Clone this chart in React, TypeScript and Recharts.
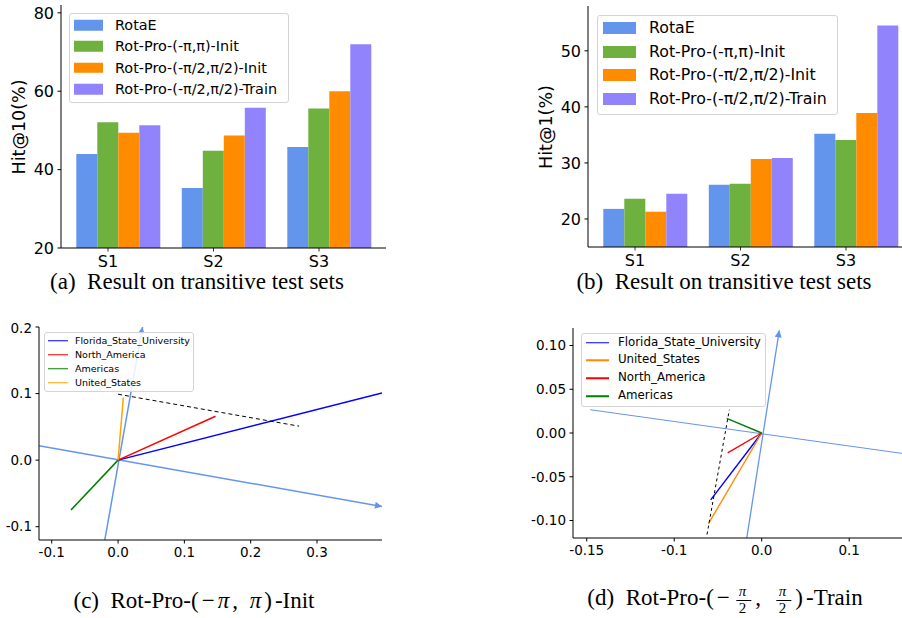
import { BarChart, Bar, XAxis, YAxis, ComposedChart, Line, Legend } from 'recharts'

const FONT = '"DejaVu Sans", sans-serif'
const SERIF = '"Liberation Serif", "Times New Roman", serif'

// bar panels (a) and (b)
const sets = ['S1', 'S2', 'S3']
const seriesNames = ['RotaE', 'Rot-Pro-(-π,π)-Init', 'Rot-Pro-(-π/2,π/2)-Init', 'Rot-Pro-(-π/2,π/2)-Train']
const barColors = ['#6495ED', '#6FB13F', '#FF8C00', '#9183FC']
const seriesKeys = ['rotae', 'piInit', 'halfPiInit', 'halfPiTrain']

const hit10RotaE = [44.0, 35.3, 45.8]
const hit10PiInit = [52.1, 44.8, 55.6]
const hit10HalfPiInit = [49.4, 48.7, 60.0]
const hit10HalfPiTrain = [51.3, 55.8, 72.0]
const hit10Ticks = [20, 40, 60, 80]

const hit1RotaE = [21.8, 26.1, 35.2]
const hit1PiInit = [23.6, 26.3, 34.1]
const hit1HalfPiInit = [21.3, 30.7, 38.9]
const hit1HalfPiTrain = [24.5, 30.9, 54.5]
const hit1Ticks = [20, 30, 40, 50]

// vector panel (c)
const cFlorida = [{ x: 0, y: 0 }, { x: 0.398, y: 0.101 }]
const cNorthAmerica = [{ x: 0, y: 0 }, { x: 0.147, y: 0.066 }]
const cAmericas = [{ x: 0, y: 0 }, { x: -0.071, y: -0.075 }]
const cUnitedStates = [{ x: 0, y: 0 }, { x: 0.008, y: 0.094 }]
const cDashed = [{ x: 0, y: 0.099 }, { x: 0.273, y: 0.051 }]
const cAxisA = [{ x: -0.119, y: 0.0215 }, { x: 0.398, y: -0.0696 }]
const cAxisB = [{ x: -0.02, y: -0.12 }, { x: 0.0369, y: 0.2 }]
const cNames = ['Florida_State_University', 'North_America', 'Americas', 'United_States']
const cColors = ['#0000FF', '#FF0000', '#008000', '#FFA500']
const cXTicks = [-0.1, 0, 0.1, 0.2, 0.3]
const cYTicks = [-0.1, 0, 0.1, 0.2]

// vector panel (d)
const dFlorida = [{ x: 0, y: 0 }, { x: -0.0583, y: -0.0764 }]
const dUnitedStates = [{ x: 0, y: 0 }, { x: -0.061, y: -0.1038 }]
const dNorthAmerica = [{ x: 0, y: 0 }, { x: -0.0389, y: -0.0228 }]
const dAmericas = [{ x: 0, y: 0 }, { x: -0.04, y: 0.0166 }]
const dDashed = [{ x: -0.0625, y: -0.116 }, { x: -0.037, y: 0.0266 }]
const dAxisA = [{ x: -0.196, y: 0.0266 }, { x: 0.1695, y: -0.0246 }]
const dAxisB = [{ x: -0.0171, y: -0.12 }, { x: 0.0201, y: 0.1174 }]
const dNames = ['Florida_State_University', 'United_States', 'North_America', 'Americas']
const dColors = ['#0000FF', '#FF8C00', '#FF0000', '#008000']
const dXTicks = [-0.2, -0.1, 0, 0.1]
const dXTickLabels = ['-0.15', '-0.1', '0.0', '0.1']
const dYTicks = [-0.1, -0.05, 0, 0.05, 0.1]

const ARROW = '#6495ED'

function toRows(a: number[], b: number[], c: number[], d: number[]) {
  return sets.map((s, i) => ({ set: s, rotae: a[i], piInit: b[i], halfPiInit: c[i], halfPiTrain: d[i] }))
}

type LegendCfg = {
  left: number
  top: number
  width: number
  height: number
  firstRow: number
  rowStep: number
  swatchLeft: number
  swatchW: number
  swatchH: number
  textLeft: number
  fontSize: number
}

function FrameLegend({ cfg, names, colors }: { cfg: LegendCfg; names: string[]; colors: string[] }) {
  return (
    <div
      style={{
        position: 'relative',
        width: cfg.width,
        height: cfg.height,
        boxSizing: 'border-box',
        border: '1px solid #d4d4d4',
        borderRadius: 3,
        background: 'rgba(255,255,255,0.85)',
        fontFamily: FONT,
        color: '#000',
      }}
    >
      {names.map((n, i) => {
        const top = cfg.firstRow + i * cfg.rowStep - 1
        return (
          <div key={n}>
            <span
              style={{
                position: 'absolute',
                left: cfg.swatchLeft - 1,
                top,
                width: cfg.swatchW,
                height: cfg.swatchH,
                transform: 'translateY(-50%)',
                background: colors[i],
              }}
            />
            <span
              style={{
                position: 'absolute',
                left: cfg.textLeft - 1,
                top,
                transform: 'translateY(-50%)',
                fontSize: cfg.fontSize,
                lineHeight: 1,
                whiteSpace: 'nowrap',
              }}
            >
              {n}
            </span>
          </div>
        )
      })}
    </div>
  )
}

// matplotlib puts the tick left of the bar group centre
function SetTick(props: any) {
  const { x, y, payload } = props
  const tx = x - 10.5
  return (
    <g>
      <line x1={tx} x2={tx} y1={y - 7} y2={y - 3.5} stroke="#000" strokeWidth={0.8} />
      <text x={tx} y={y} dy="0.76em" textAnchor="middle" fontSize={16} fontFamily={FONT} fill="#000">
        {payload.value}
      </text>
    </g>
  )
}

type BarPanelProps = {
  rows: any[]
  top: number
  height: number
  yDomain: [number, number]
  yTicks: number[]
  legend: LegendCfg
}

function BarPanel({ rows, top, height, yDomain, yTicks, legend }: BarPanelProps) {
  const tickStyle = { fill: '#000', fontSize: 16, fontFamily: FONT }
  return (
    <BarChart
      width={400}
      height={height}
      data={rows}
      margin={{ top, right: 14, bottom: 0, left: 16 }}
      barGap={0}
      barCategoryGap="10%"
    >
      <XAxis
        dataKey="set"
        padding={{ left: 4.75, right: 3.75 }}
        axisLine={{ stroke: '#000' }}
        tickLine={false}
        tickSize={3.5}
        tickMargin={3.5}
        height={27}
        interval={0}
        tick={<SetTick />}
      />
      <XAxis xAxisId="top" orientation="top" dataKey="set" height={0} tick={false} tickLine={false} axisLine={{ stroke: '#000' }} />
      <YAxis
        type="number"
        domain={yDomain}
        ticks={yTicks}
        allowDataOverflow
        width={45}
        tick={tickStyle}
        tickSize={3.5}
        tickMargin={3.5}
        tickLine={{ stroke: '#000' }}
        axisLine={{ stroke: '#000' }}
      />
      <YAxis yAxisId="right" orientation="right" type="number" domain={[0, 1]} width={0} tick={false} tickLine={false} axisLine={{ stroke: '#000' }} />
      {seriesKeys.map((k, i) => (
        <Bar key={k} dataKey={k} name={seriesNames[i]} fill={barColors[i]} isAnimationActive={false} />
      ))}
      <Legend
        layout="horizontal"
        verticalAlign="middle"
        align="center"
        wrapperStyle={{ left: legend.left, top: legend.top, width: legend.width, height: legend.height }}
        content={() => <FrameLegend cfg={legend} names={seriesNames} colors={barColors} />}
      />
    </BarChart>
  )
}

type Seg = { data: { x: number; y: number }[]; color: string; width: number; dash?: string; arrow?: boolean }

type VectorPanelProps = {
  id: string
  width: number
  height: number
  margin: { top: number; right: number; bottom: number; left: number }
  yWidth: number
  xDomain: [number, number]
  yDomain: [number, number]
  xTicks: number[]
  yTicks: number[]
  xFormat: (v: number, i: number) => string
  yFormat: (v: number) => string
  segs: Seg[]
  names: string[]
  colors: string[]
  legend: LegendCfg
}

function VectorPanel(p: VectorPanelProps) {
  const tickStyle = { fill: '#000', fontSize: 13.5, fontFamily: FONT }
  return (
    <ComposedChart width={p.width} height={p.height} margin={p.margin}>
      <defs>
        <marker
          id={p.id}
          viewBox="0 0 10 10"
          refX="10"
          refY="5"
          markerWidth="9"
          markerHeight="7"
          markerUnits="userSpaceOnUse"
          orient="auto"
        >
          <path d="M0,0 L10,5 L0,10 z" fill={ARROW} />
        </marker>
      </defs>
      <XAxis
        type="number"
        dataKey="x"
        domain={p.xDomain}
        ticks={p.xTicks}
        allowDataOverflow
        tickFormatter={p.xFormat}
        height={25}
        tick={tickStyle}
        tickSize={3.5}
        tickMargin={3.5}
        tickLine={{ stroke: '#000' }}
        axisLine={{ stroke: '#000' }}
      />
      <XAxis xAxisId="top" orientation="top" type="number" domain={[0, 1]} height={0} tick={false} tickLine={false} axisLine={{ stroke: '#000' }} />
      <YAxis
        type="number"
        dataKey="y"
        domain={p.yDomain}
        ticks={p.yTicks}
        allowDataOverflow
        tickFormatter={p.yFormat}
        width={p.yWidth}
        tick={tickStyle}
        tickSize={3.5}
        tickMargin={3.5}
        tickLine={{ stroke: '#000' }}
        axisLine={{ stroke: '#000' }}
      />
      <YAxis yAxisId="right" orientation="right" type="number" domain={[0, 1]} width={0} tick={false} tickLine={false} axisLine={{ stroke: '#000' }} />
      {p.segs.map((s, i) => (
        <Line
          key={i}
          data={s.data}
          dataKey="y"
          type="linear"
          stroke={s.color}
          strokeWidth={s.width}
          strokeDasharray={s.dash}
          markerEnd={s.arrow ? `url(#${p.id})` : undefined}
          dot={false}
          activeDot={false}
          legendType="none"
          isAnimationActive={false}
        />
      ))}
      <Legend
        layout="horizontal"
        verticalAlign="middle"
        align="center"
        wrapperStyle={{ left: p.legend.left, top: p.legend.top, width: p.legend.width, height: p.legend.height }}
        content={() => <FrameLegend cfg={p.legend} names={p.names} colors={p.colors} />}
      />
    </ComposedChart>
  )
}

function Caption({ x, y, children }: { x: number; y: number; children: any }) {
  return (
    <div
      style={{
        position: 'absolute',
        left: x,
        top: y,
        transform: 'translate(-50%, -50%)',
        whiteSpace: 'nowrap',
        fontFamily: SERIF,
        fontSize: 23,
        lineHeight: 1,
        color: '#000',
      }}
    >
      {children}
    </div>
  )
}

function AxisTitle({ x, y, text }: { x: number; y: number; text: string }) {
  return (
    <div
      style={{
        position: 'absolute',
        left: x,
        top: y,
        transform: 'translate(-50%, -50%) rotate(-90deg)',
        whiteSpace: 'nowrap',
        fontFamily: FONT,
        fontSize: 17.5,
        lineHeight: 1,
        color: '#000',
      }}
    >
      {text}
    </div>
  )
}

function Frac() {
  return (
    <span
      style={{
        display: 'inline-flex',
        flexDirection: 'column',
        alignItems: 'center',
        verticalAlign: '9px',
        fontSize: 15,
        lineHeight: 1,
        margin: '0 4px',
      }}
    >
      <span style={{ fontStyle: 'italic', borderBottom: '1px solid #000', padding: '0 2px 1px' }}>π</span>
      <span>2</span>
    </span>
  )
}

const fmt1 = (v: number) => v.toFixed(1)
const fmt2 = (v: number) => v.toFixed(2)

export default function App() {
  const rows10 = toRows(hit10RotaE, hit10PiInit, hit10HalfPiInit, hit10HalfPiTrain)
  const rows1 = toRows(hit1RotaE, hit1PiInit, hit1HalfPiInit, hit1HalfPiTrain)

  const segsC: Seg[] = [
    { data: cAxisA, color: ARROW, width: 1.5, arrow: true },
    { data: cAxisB, color: ARROW, width: 1.5, arrow: true },
    { data: cFlorida, color: cColors[0], width: 1.5 },
    { data: cNorthAmerica, color: cColors[1], width: 1.5 },
    { data: cAmericas, color: cColors[2], width: 1.5 },
    { data: cUnitedStates, color: cColors[3], width: 1.5 },
    { data: cDashed, color: '#000', width: 1, dash: '4 3' },
  ]
  const segsD: Seg[] = [
    { data: dAxisA, color: ARROW, width: 1 },
    { data: dAxisB, color: ARROW, width: 1.3, arrow: true },
    { data: dFlorida, color: dColors[0], width: 1.4 },
    { data: dUnitedStates, color: dColors[1], width: 1.4 },
    { data: dNorthAmerica, color: dColors[2], width: 1.4 },
    { data: dAmericas, color: dColors[3], width: 1.4 },
    { data: dDashed, color: '#000', width: 1, dash: '3 3' },
  ]

  const mathStyle = { letterSpacing: 3 }

  return (
    <div
      style={{
        position: 'absolute',
        left: 0,
        top: 0,
        width: 902,
        height: 618,
        overflow: 'hidden',
        background: '#fff',
        fontFamily: FONT,
      }}
    >
      <div style={{ position: 'absolute', left: 0, top: 0 }}>
        <BarPanel
          rows={rows10}
          top={5}
          height={275}
          yDomain={[20, 82]}
          yTicks={hit10Ticks}
          legend={{ left: 69, top: 13, width: 220, height: 90, firstRow: 12, rowStep: 21.4, swatchLeft: 5, swatchW: 29, swatchH: 10.5, textLeft: 46, fontSize: 14.4 }}
        />
      </div>
      <AxisTitle x={20} y={127} text="Hit@10(%)" />
      <Caption x={197} y={281}>(a)&nbsp; Result on transitive test sets</Caption>

      <div style={{ position: 'absolute', left: 527, top: 0 }}>
        <BarPanel
          rows={rows1}
          top={6}
          height={274}
          yDomain={[15, 58]}
          yTicks={hit1Ticks}
          legend={{ left: 70, top: 15, width: 241, height: 100, firstRow: 12.7, rowStep: 23.8, swatchLeft: 5.7, swatchW: 33, swatchH: 12, textLeft: 52, fontSize: 15.8 }}
        />
      </div>
      <AxisTitle x={547} y={127} text="Hit@1(%)" />
      <Caption x={724} y={281}>(b)&nbsp; Result on transitive test sets</Caption>

      <div style={{ position: 'absolute', left: 0, top: 320 }}>
        <VectorPanel
          id="arrowC"
          width={400}
          height={250}
          margin={{ top: 7, right: 18, bottom: 5, left: 3 }}
          yWidth={36}
          xDomain={[-0.1192, 0.398]}
          yDomain={[-0.12, 0.2]}
          xTicks={cXTicks}
          yTicks={cYTicks}
          xFormat={fmt1}
          yFormat={fmt1}
          segs={segsC}
          names={cNames}
          colors={cColors}
          legend={{ left: 44, top: 12, width: 150, height: 60, firstRow: 8.7, rowStep: 14, swatchLeft: 3.7, swatchW: 20.6, swatchH: 1.5, textLeft: 31, fontSize: 9.5 }}
        />
      </div>
      <Caption x={194} y={600}>
        (c)&nbsp; Rot-Pro-<span style={mathStyle}>(−<i>π</i>, <i>π</i>)</span>-Init
      </Caption>

      <div style={{ position: 'absolute', left: 500, top: 320 }}>
        <VectorPanel
          id="arrowD"
          width={420}
          height={250}
          margin={{ top: 8, right: 10, bottom: 7, left: 28 }}
          yWidth={45}
          xDomain={[-0.2157, 0.1695]}
          yDomain={[-0.12, 0.12]}
          xTicks={dXTicks}
          yTicks={dYTicks}
          xFormat={(v, i) => dXTickLabels[i] ?? v.toFixed(1)}
          yFormat={fmt2}
          segs={segsD}
          names={dNames}
          colors={dColors}
          legend={{ left: 80.7, top: 13.3, width: 185.3, height: 74, firstRow: 9.4, rowStep: 17.8, swatchLeft: 5, swatchW: 23.6, swatchH: 1.5, textLeft: 37.3, fontSize: 11.8 }}
        />
      </div>
      <Caption x={725} y={600}>
        (d)&nbsp; Rot-Pro-<span style={mathStyle}>(−<Frac />, <Frac />)</span>-Train
      </Caption>
    </div>
  )
}
